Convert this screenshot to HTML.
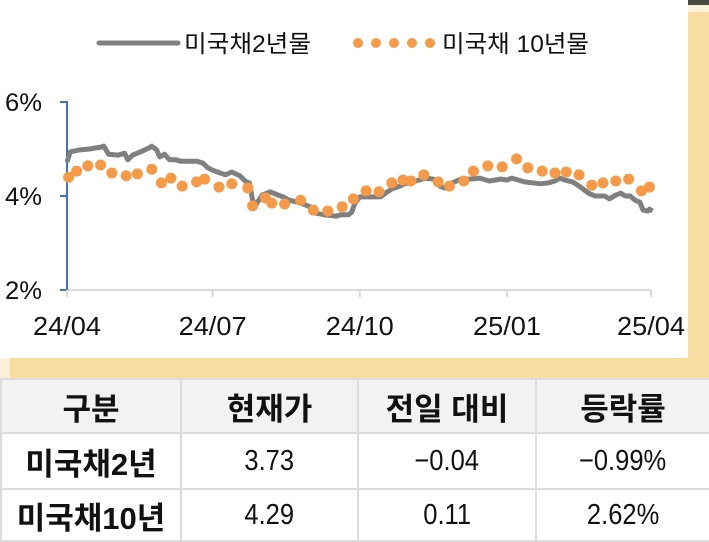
<!DOCTYPE html>
<html><head><meta charset="utf-8"><style>
body{margin:0;width:709px;height:540px;overflow:hidden;background:#f9dca0;font-family:"Liberation Sans","Noto Sans CJK KR",sans-serif;position:relative}
#panel{position:absolute;left:0;top:0;width:688px;height:358px;background:#fff}
#topbar{position:absolute;left:688px;top:0;width:21px;height:5px;background:#4a4a44}
#topcream{position:absolute;left:688px;top:5px;width:21px;height:7px;background:#fdf0d8}
#leftcream{position:absolute;left:0;top:358px;width:10px;height:20px;background:#fdf0d8}
table{position:absolute;left:0;top:378px;width:709px;height:162px;border-collapse:collapse;table-layout:fixed}
td{border:2px solid #dcdcdc;text-align:center;font-size:29px;color:#111;background:#fff;padding:0}
td span{display:inline-block;transform:scaleX(.88)}
tr.h td{background:#f2f2f2;font-weight:bold;font-size:31px}
td.n{font-weight:bold;font-size:31px}
</style></head><body>
<div id="panel">
<svg id="chart" width="688" height="358"></svg>
</div>
<div id="topbar"></div>
<div id="topcream"></div>
<div id="leftcream"></div>
<table>
<colgroup><col style="width:180px"><col style="width:177px"><col style="width:178px"><col style="width:174px"></colgroup>
<tr class="h" style="height:54px"><td>구분</td><td>현재가</td><td>전일 대비</td><td>등락률</td></tr>
<tr style="height:56px"><td class="n">미국채2년</td><td><span>3.73</span></td><td><span>−0.04</span></td><td><span>−0.99%</span></td></tr>
<tr style="height:52px"><td class="n">미국채10년</td><td><span>4.29</span></td><td><span>0.11</span></td><td><span>2.62%</span></td></tr>
</table>
<script>
const tickLabels=["24/04","24/07","24/10","25/01","25/04"];
const tickDays=[0,91,183,275,365];
const yTicks=[2,4,6];
const days2y=[0,2,8,14,21,23,26,32,36,38,41,46,51,53,56,58,61,64,68,71,77,81,85,88,91,94,99,103,108,112,114,116,118,122,127,132,135,139,146,152,155,161,168,171,176,178,180,183,189,196,199,203,208,211,218,224,229,233,236,241,246,252,258,264,271,275,278,282,286,291,296,301,305,308,311,316,321,326,330,336,339,343,346,349,352,355,358,360,363,364,366];
const vals2y=[4.72,4.94,4.98,5.00,5.04,5.06,4.89,4.87,4.91,4.77,4.87,4.94,5.02,5.06,4.98,4.83,4.89,4.77,4.77,4.74,4.74,4.74,4.70,4.60,4.55,4.51,4.45,4.51,4.43,4.30,4.28,3.91,3.81,4.02,4.09,4.02,3.98,3.91,3.85,3.77,3.64,3.60,3.57,3.60,3.60,3.66,3.85,3.98,3.98,3.98,4.06,4.15,4.21,4.26,4.32,4.38,4.36,4.21,4.17,4.28,4.36,4.36,4.38,4.32,4.36,4.34,4.38,4.34,4.30,4.28,4.26,4.28,4.32,4.38,4.34,4.30,4.19,4.06,4.00,4.00,3.94,4.02,4.06,4.00,4.00,3.91,3.87,3.70,3.68,3.72,3.68];
const days10y=[1,6,13,21,28,37,44,53,59,65,72,81,86,95,103,113,116,124,128,136,146,154,163,172,179,187,195,203,210,215,223,232,239,248,254,263,272,281,288,297,305,312,320,328,335,343,351,359,364];
const vals10y=[4.40,4.53,4.64,4.66,4.49,4.43,4.47,4.57,4.28,4.38,4.21,4.30,4.36,4.19,4.26,4.17,3.79,3.96,3.85,3.83,3.91,3.70,3.68,3.77,3.94,4.11,4.09,4.28,4.34,4.32,4.45,4.30,4.21,4.32,4.53,4.64,4.62,4.79,4.60,4.53,4.49,4.51,4.45,4.23,4.28,4.32,4.36,4.11,4.19];
const NS="http://www.w3.org/2000/svg";
const svg=document.getElementById('chart');
const X=d=>67+d*(584/365);
const Y=v=>196-(v-4)*47;
function mk(t,a,p){const e=document.createElementNS(NS,t);for(const k in a)e.setAttribute(k,a[k]);(p||svg).appendChild(e);return e;}
let e=mk('line',{x1:67,y1:290,x2:651,y2:290,stroke:'#d9d9d9','stroke-width':2});


e=mk('line',{x1:67,y1:101,x2:67,y2:291,stroke:'#4472c4','stroke-width':2});


yTicks.forEach(v=>{
 let t=mk('line',{x1:60,y1:Y(v),x2:67,y2:Y(v),stroke:'#4472c4','stroke-width':2});
 
 
 let l=mk('text',{x:5,y:Y(v)+9,'font-size':25,fill:'#111',textLength:37,lengthAdjust:'spacingAndGlyphs'});
 l.textContent=v+'%';
 
 
});
tickDays.forEach((d,i)=>{
 let t=mk('line',{x1:X(d),y1:290,x2:X(d),y2:297,stroke:'#d9d9d9','stroke-width':2});
 
 
 let l=mk('text',{x:X(d)-34,y:335,'font-size':26,fill:'#111',textLength:68,lengthAdjust:'spacingAndGlyphs'});
 l.textContent=tickLabels[i];
 
 
});
let d='';days2y.forEach((dd,i)=>{d+=(i?'L':'M')+X(dd).toFixed(1)+' '+Y(vals2y[i]).toFixed(1)});
e=mk('path',{d:d,fill:'none',stroke:'#808080','stroke-width':5,'stroke-linejoin':'round'});


days10y.forEach((dd,i)=>{
 let c=mk('circle',{cx:X(dd),cy:Y(vals10y[i]),r:5.5,fill:'#f79a48'});
 
 
});
e=mk('line',{x1:99,y1:43,x2:178,y2:43,stroke:'#808080','stroke-width':5,'stroke-linecap':'round'});


e=mk('text',{x:184,y:52,'font-size':24,fill:'#111',textLength:127,lengthAdjust:'spacingAndGlyphs'});e.textContent='미국채2년물';


[358,376,394,412,430].forEach(cx=>{let c=mk('circle',{cx:cx,cy:43,r:5,fill:'#f79a48'});
 
 });
e=mk('text',{x:442,y:52,'font-size':24,fill:'#111',textLength:147,lengthAdjust:'spacingAndGlyphs'});e.textContent='미국채 10년물';


</script>
</body></html>
